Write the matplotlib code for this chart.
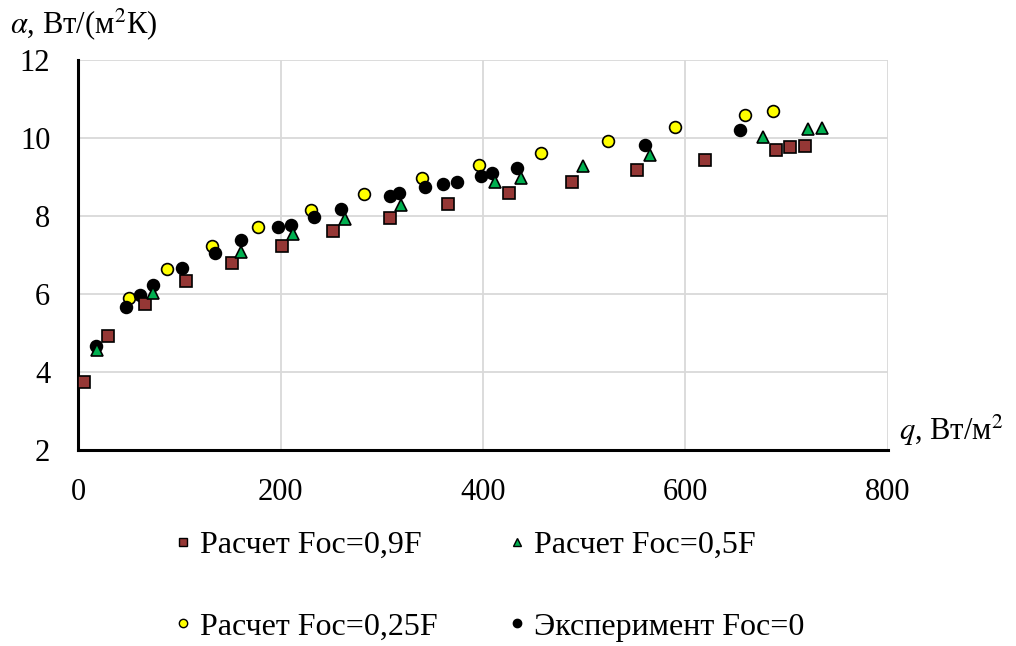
import matplotlib.pyplot as plt
from matplotlib.lines import Line2D

plt.rcParams["font.family"] = ["Liberation Serif", "DejaVu Serif"]
plt.rcParams["mathtext.fontset"] = "stix"

# ---- data ----
q_09 = [6, 30, 66, 107, 152, 201, 252, 308, 365, 426, 488, 552, 619, 689, 703, 718]
a_09 = [3.74, 4.92, 5.74, 6.33, 6.79, 7.23, 7.62, 7.95, 8.31, 8.59, 8.87, 9.18, 9.44, 9.69, 9.77, 9.79]

q_05 = [19, 74, 161, 212, 264, 319, 412, 438, 499, 565, 677, 721, 735]
a_05 = [4.56, 6.03, 7.08, 7.54, 7.92, 8.28, 8.87, 8.97, 9.28, 9.56, 10.03, 10.23, 10.26]

q_025 = [50, 88, 132, 178, 230, 282, 340, 396, 457, 523, 590, 659, 686]
a_025 = [5.90, 6.64, 7.23, 7.72, 8.15, 8.56, 8.97, 9.31, 9.62, 9.92, 10.28, 10.60, 10.69]

q_exp = [18, 47, 61, 74, 103, 135, 161, 198, 210, 233, 260, 308, 317, 343, 360, 374,
         398, 409, 434, 560, 654]
a_exp = [4.67, 5.67, 5.97, 6.23, 6.67, 7.06, 7.38, 7.72, 7.77, 7.97, 8.18, 8.51, 8.59,
         8.74, 8.82, 8.87, 9.03, 9.10, 9.23, 9.82, 10.21]

labels = ["Расчет Foc=0,9F", "Расчет Foc=0,5F", "Расчет Foc=0,25F", "Эксперимент Foc=0"]
x_ticks = [0, 200, 400, 600, 800]
y_ticks = [2, 4, 6, 8, 10, 12]

fig = plt.figure(figsize=(10.16, 6.46), dpi=100)
ax = fig.add_axes([0.0768, 0.3034, 0.7972, 0.6037])

ms = 8.5
ax.plot(q_025, a_025, "o", ms=ms, mfc="#FFFF00", mec="black", mew=1.2, zorder=3)
ax.plot(q_exp, a_exp, "o", ms=ms, mfc="black", mec="black", mew=1.2, zorder=4)
ax.plot(q_09, a_09, "s", ms=ms, mfc="#953735", mec="black", mew=1.2, zorder=5)
ax.plot(q_05, a_05, "^", ms=ms, mfc="#00B050", mec="black", mew=1.2, zorder=6)

ax.set_xlim(0, 800)
ax.set_ylim(2, 12)
ax.set_xticks(x_ticks)
ax.set_yticks(y_ticks)
ax.grid(True, color="#D9D9D9", lw=1.3)
ax.set_axisbelow(True)
ax.tick_params(length=0, labelsize=22)
ax.tick_params(axis="x", pad=20)
ax.tick_params(axis="y", pad=20)
for s in ["top", "right"]:
    ax.spines[s].set_visible(False)
for s in ["left", "bottom"]:
    ax.spines[s].set_linewidth(2.2)

fig.text(0.010, 0.962, r"$\alpha$, Вт/(м$^2$К)", fontsize=22, va="center", ha="left")
fig.text(0.885, 0.333, r"$q$, Вт/м$^2$", fontsize=22, va="center", ha="left")

# ---- legend (column-major fill, so reorder to read row by row) ----
lm = 6
handles = [
    Line2D([], [], ls="", marker="s", ms=lm, mfc="#953735", mec="black", mew=1),
    Line2D([], [], ls="", marker="^", ms=lm, mfc="#00B050", mec="black", mew=1),
    Line2D([], [], ls="", marker="o", ms=lm, mfc="#FFFF00", mec="black", mew=1),
    Line2D([], [], ls="", marker="o", ms=lm, mfc="black", mec="black", mew=1),
]
order = [0, 2, 1, 3]
fig.legend([handles[i] for i in order], [labels[i] for i in order], ncol=2,
           loc="center left", bbox_to_anchor=(0.1738, 0.0929),
           frameon=False, fontsize=23, handlelength=0.4, handletextpad=0.33,
           columnspacing=2.3, labelspacing=1.64, borderpad=0, borderaxespad=0)

fig.savefig("out.png", dpi=100)
